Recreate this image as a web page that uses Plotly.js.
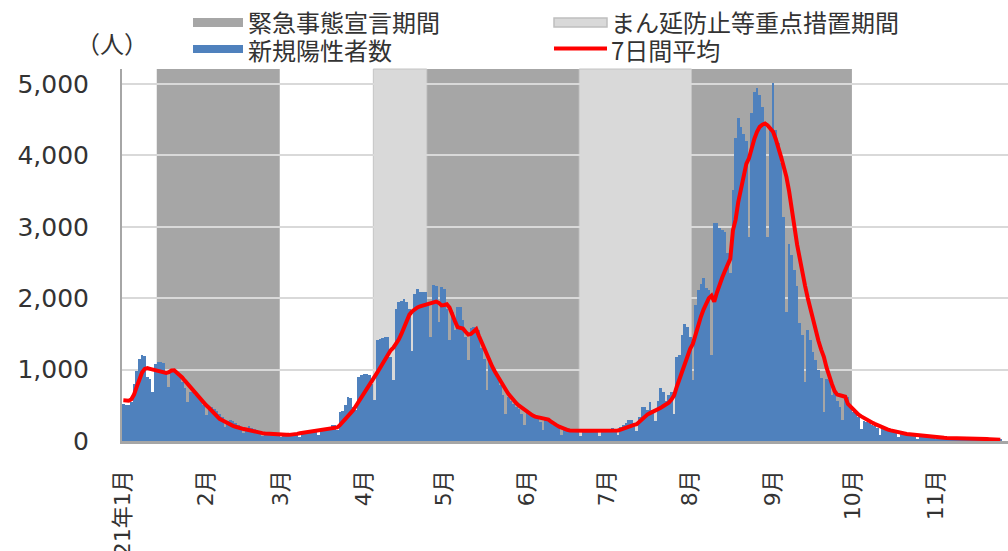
<!DOCTYPE html>
<html>
<head>
<meta charset="utf-8">
<script src="https://cdn.plot.ly/plotly-3.0.1.min.js"></script>
<style>
  html, body { margin: 0; padding: 0; background: #ffffff; }
  #chart { width: 1008px; height: 551px; }
</style>
</head>
<body>
<div id="chart"></div>
<script>
// Daily new positive cases from 2021-01-01 (one value per day)
const newCases = [
  520, 500, 510, 540, 800, 980, 1150,
  1210, 1190, 900, 870, 690, 1080, 1100,
  1110, 1090, 980, 750, 960, 1000, 960,
  900, 830, 740, 540, 680, 700, 640,
  600, 560, 500, 360, 470, 480, 450,
  420, 380, 330, 200, 280, 300, 280,
  250, 230, 200, 110, 170, 210, 180,
  170, 160, 140, 70, 90, 110, 100,
  100, 90, 85, 50, 80, 100, 95,
  100, 110, 95, 60, 110, 130, 120,
  140, 150, 130, 80, 150, 180, 170,
  190, 220, 230, 160, 400, 420, 500,
  610, 600, 480, 430, 900, 930, 940,
  940, 930, 800, 570, 1420, 1430, 1440,
  1450, 1450, 1180, 860, 1850, 1950, 1960,
  1990, 1950, 1850, 1260, 2060, 2130, 2090,
  2080, 2080, 1900, 1450, 2180, 2170, 1660,
  2150, 2130, 1850, 1420, 1800, 1560, 1880,
  1880, 1700, 1450, 1140, 1580, 1600, 1520,
  1560, 1300, 1150, 720, 1100, 1050, 950,
  880, 780, 640, 380, 620, 560, 520,
  470, 450, 380, 230, 400, 380, 370,
  340, 320, 270, 150, 300, 280, 260,
  230, 220, 180, 90, 170, 180, 160,
  150, 140, 130, 70, 150, 160, 150,
  145, 140, 120, 70, 140, 160, 150,
  160, 180, 150, 90, 200, 230, 250,
  300, 290, 230, 140, 330, 480, 470,
  440, 550, 430, 280, 560, 740, 680,
  560, 650, 690, 380, 1180, 1200, 1480,
  1640, 1600, 1460, 850, 1900, 2110, 2200,
  2280, 2140, 2110, 1200, 3050, 3050, 2980,
  2950, 2930, 2630, 2350, 3520, 4240, 4520,
  4400, 4300, 4200, 2860, 4590, 4890, 4940,
  4850, 4680, 4430, 2860, 4400, 5010, 4360,
  4170, 3890, 3140, 1800, 2760, 2600, 2400,
  2170, 1650, 1480, 820, 1560, 1420, 1240,
  1140, 1000, 880, 400, 870, 860, 640,
  680, 560, 480, 300, 630, 620, 510,
  400, 380, 330, 170, 280, 260, 250,
  220, 210, 180, 80, 170, 160, 150,
  140, 130, 110, 50, 110, 115, 100,
  95, 90, 80, 35, 80, 85, 75,
  70, 65, 55, 25, 60, 55, 50,
  45, 45, 35, 15, 40, 45, 40,
  35, 35, 30, 12, 35, 35, 30,
  30, 28, 22, 10, 25, 30, 25
];

// 7-day average of new cases, same days
const avg7 = [
  570, 565, 565, 585, 650, 760, 870,
  960, 1010, 1020, 1010, 1000, 990, 978,
  968, 958, 952, 965, 988, 990, 960,
  928, 890, 845, 800, 755, 714, 665,
  615, 575, 535, 500, 465, 425, 385,
  345, 310, 290, 268, 250, 230, 212,
  200, 185, 175, 167, 160, 150, 143,
  133, 123, 116, 110, 105, 101, 97,
  93, 89, 86, 86, 86, 86, 86,
  88, 92, 100, 108, 114, 119, 124,
  130, 135, 139, 143, 146, 150, 156,
  163, 168, 175, 190, 222, 260, 300,
  345, 390, 434, 490, 550, 605, 660,
  717, 775, 835, 880, 960, 1024, 1090,
  1160, 1220, 1270, 1307, 1360, 1420, 1500,
  1580, 1660, 1770, 1815, 1850, 1870, 1885,
  1895, 1905, 1915, 1925, 1940, 1953, 1935,
  1900, 1905, 1915, 1870, 1790, 1680, 1595,
  1585, 1575, 1530, 1490, 1500, 1540, 1566,
  1470, 1380, 1290, 1200, 1120, 1040, 970,
  900, 840, 780, 720, 660, 610, 565,
  528, 495, 465, 435, 410, 385, 360,
  342, 332, 325, 320, 316, 300, 270,
  240, 222, 200, 180, 165, 155, 148,
  145, 143, 143, 143, 143, 143, 143,
  143, 143, 143, 143, 143, 143, 143,
  143, 143, 143, 148, 160, 175, 187,
  200, 215, 225, 234, 270, 310, 345,
  370, 390, 405, 420, 440, 465, 490,
  515, 538, 580, 640, 760, 870, 960,
  1050, 1170, 1290, 1360, 1500, 1620, 1740,
  1840, 1930, 2000, 2036, 1950, 2080, 2200,
  2290, 2380, 2460, 2550, 2950, 3100, 3350,
  3550, 3750, 3880, 3960, 4120, 4230, 4330,
  4400, 4430, 4447, 4420, 4370, 4330, 4230,
  4120, 3980, 3840, 3700, 3500, 3290, 3000,
  2750, 2530, 2350, 2170, 2000, 1840, 1685,
  1550, 1400, 1280, 1180, 1030, 900, 800,
  700, 650, 640, 635, 620, 520, 480,
  440, 405, 370, 345, 320, 300, 280,
  260, 240, 222, 205, 190, 175, 160,
  148, 138, 128, 118, 110, 104, 99,
  95, 90, 86, 82, 78, 74, 70,
  66, 62, 58, 54, 50, 47, 45,
  43, 41, 40, 39, 38, 37, 36,
  35, 34, 33, 32, 31, 30, 29,
  28, 27, 26, 24, 22, 20, 18
];

// State of emergency periods (first day, last day)
const emergencyPeriods = [
  ['2021-01-14', '2021-02-28'],
  ['2021-04-25', '2021-06-20'],
  ['2021-08-02', '2021-09-30']
];
// Priority preventive measures periods (first day, last day)
const priorityPeriods = [
  ['2021-04-05', '2021-04-24'],
  ['2021-06-21', '2021-08-01']
];

// Month ticks
const monthTicks = ['2021-01-01', '2021-02-01', '2021-03-01', '2021-04-01', '2021-05-01', '2021-06-01',
                    '2021-07-01', '2021-08-01', '2021-09-01', '2021-10-01', '2021-11-01'];
const monthLabels = ['2021年1月', '2月', '3月', '4月', '5月', '6月', '7月', '8月', '9月', '10月', '11月'];

const seriesNames = {
  emergency: '緊急事態宣言期間',
  priority: 'まん延防止等重点措置期間',
  cases: '新規陽性者数',
  average: '7日間平均'
};

const pad = n => String(n).padStart(2, '0');
function fmt(ms) {
  const d = new Date(ms);
  return d.getUTCFullYear() + '-' + pad(d.getUTCMonth() + 1) + '-' + pad(d.getUTCDate()) +
         ' ' + pad(d.getUTCHours()) + ':' + pad(d.getUTCMinutes());
}
function dayMs(s) {
  const [y, m, d] = s.split('-').map(Number);
  return Date.UTC(y, m - 1, d);
}
const HALF_DAY = 12 * 3600 * 1000;
const dates = newCases.map((_, i) => fmt(Date.UTC(2021, 0, 1 + i)).slice(0, 10));

// Plot-area geometry in pixels
const W = 1008, H = 551;
const M = { l: 122, r: 0, t: 69, b: 110 };
const plotW = W - M.l - M.r, plotH = H - M.t - M.b;
const px = x => (x - M.l) / plotW;
const py = y => (H - M.b - y) / plotH;

const textColor = '#333333';
const cjkFont = 'Noto Sans CJK JP, sans-serif';

// Shaded periods, drawn between the gridlines and the bars
const shapes = [];
emergencyPeriods.forEach(([a, b]) => shapes.push({
  type: 'rect', xref: 'x', yref: 'paper', layer: 'between',
  x0: fmt(dayMs(a) - HALF_DAY), x1: fmt(dayMs(b) + HALF_DAY), y0: 0, y1: 1,
  fillcolor: '#a6a6a6', line: { width: 0 }
}));
priorityPeriods.forEach(([a, b]) => shapes.push({
  type: 'rect', xref: 'x', yref: 'paper', layer: 'between',
  x0: fmt(dayMs(a) - HALF_DAY), x1: fmt(dayMs(b) + HALF_DAY), y0: 0, y1: 1,
  fillcolor: '#d9d9d9', line: { width: 1, color: '#c4c4c4' }
}));

// Legend swatches
shapes.push(
  { type: 'rect', xref: 'paper', yref: 'paper', x0: px(193), x1: px(243), y0: py(27), y1: py(18),
    fillcolor: '#a6a6a6', line: { width: 0 } },
  { type: 'rect', xref: 'paper', yref: 'paper', x0: px(193), x1: px(243), y0: py(53), y1: py(45),
    fillcolor: '#4f81bd', line: { width: 0 } },
  { type: 'rect', xref: 'paper', yref: 'paper', x0: px(554), x1: px(607), y0: py(27), y1: py(18),
    fillcolor: '#d9d9d9', line: { width: 1.5, color: '#bfbfbf' } },
  { type: 'line', xref: 'paper', yref: 'paper', x0: px(554), x1: px(607), y0: py(48.5), y1: py(48.5),
    line: { width: 4, color: '#ff0000' } }
);

const legendText = (text, x, y) => ({
  text, xref: 'paper', yref: 'paper', x: px(x), y: py(y),
  xanchor: 'left', yanchor: 'middle', showarrow: false,
  font: { family: cjkFont, size: 24, color: textColor }
});

const annotations = [
  legendText(seriesNames.emergency, 246, 22),
  legendText(seriesNames.cases, 246, 49),
  legendText(seriesNames.priority, 609, 22),
  legendText(seriesNames.average, 609, 49),
  { text: '（人）', xref: 'paper', yref: 'paper', x: px(112), y: py(42),
    xanchor: 'center', yanchor: 'middle', showarrow: false,
    font: { family: cjkFont, size: 24, color: textColor } }
];

const traces = [
  {
    type: 'bar', name: seriesNames.cases, x: dates, y: newCases,
    marker: { color: '#4f81bd', line: { width: 0 } },
    showlegend: false, hoverinfo: 'x+y'
  },
  {
    type: 'scatter', mode: 'lines', name: seriesNames.average, x: dates, y: avg7,
    line: { color: '#ff0000', width: 4 },
    showlegend: false
  }
];

const layout = {
  width: W, height: H,
  margin: M,
  paper_bgcolor: '#ffffff', plot_bgcolor: '#ffffff',
  bargap: 0,
  showlegend: false,
  xaxis: {
    type: 'date',
    range: ['2020-12-31 12:00', '2021-11-27 21:00'],
    tickmode: 'array', tickvals: monthTicks, ticktext: monthLabels,
    tickangle: -90,
    ticks: '', ticklabelstandoff: 18,
    tickfont: { family: 'DejaVu Sans, Noto Sans CJK JP, sans-serif', size: 22, color: textColor },
    showgrid: false, zeroline: false,
    showline: true, linecolor: '#a6a6a6', linewidth: 2.5,
    automargin: false, fixedrange: true
  },
  yaxis: {
    range: [0, 5210],
    tickmode: 'array', tickvals: [0, 1000, 2000, 3000, 4000, 5000],
    tickformat: ',d',
    ticks: '', ticklabelstandoff: 26,
    tickfont: { family: 'DejaVu Sans, sans-serif', size: 25, color: textColor },
    showgrid: true, gridcolor: '#d9d9d9', gridwidth: 2,
    zeroline: false,
    showline: true, linecolor: '#a6a6a6', linewidth: 2,
    automargin: false, fixedrange: true
  },
  shapes, annotations
};

Plotly.newPlot('chart', traces, layout, { displayModeBar: false, staticPlot: true });
</script>
</body>
</html>
